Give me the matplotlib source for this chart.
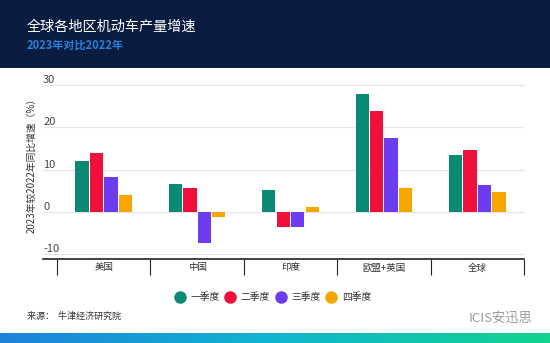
import numpy as np
import matplotlib
matplotlib.use("Agg")
import matplotlib.pyplot as plt
from matplotlib.patches import Rectangle
from matplotlib.colors import LinearSegmentedColormap
from matplotlib.lines import Line2D

plt.rcParams['font.family'] = ['Noto Sans CJK SC', 'DejaVu Sans']

# data
regions = ["美国", "中国", "印度", "欧盟+英国", "全球"]
quarters = ["一季度", "二季度", "三季度", "四季度"]
q1 = [12.0, 6.7, 5.1, 27.9, 13.5]
q2 = [13.9, 5.6, -3.5, 23.9, 14.7]
q3 = [8.3, -7.4, -3.5, 17.4, 6.3]
q4 = [4.0, -1.1, 1.3, 5.6, 4.8]
yticks = [-10, 0, 10, 20, 30]

colors = ["#0b8a73", "#f0103c", "#6b3cf0", "#f7a600"]
series = [q1, q2, q3, q4]

W, H = 550, 343
fig = plt.figure(figsize=(W / 100, H / 100), dpi=100)
fig.patch.set_facecolor("white")

# header band
fig.patches.append(Rectangle((0, 1 - 68 / H), 1, 68 / H, transform=fig.transFigure,
                             facecolor="#0a1d40", edgecolor="none", zorder=0))
fig.text(27 / W, 1 - 27 / H, "全球各地区机动车产量增速", color="white",
         fontsize=10.2, va="center", ha="left")
fig.text(27 / W, 1 - 45 / H, "2023年对比2022年", color="#2b7fdc",
         fontsize=8, fontweight="bold", va="center", ha="left")

# bottom gradient band
gax = fig.add_axes([0, 0, 1, 10 / H])
cmap = LinearSegmentedColormap.from_list("band", ["#1f82da", "#0fb6cf", "#12d38e"])
gax.imshow(np.linspace(0, 1, 256)[None, :], aspect="auto", cmap=cmap)
gax.axis("off")

ax = fig.add_axes([57 / W, 1 - 259 / H, (524 - 57) / W, (259 - 85) / H])
x = np.arange(len(regions))
bw = 0.143
step = 0.155
for i, (vals, c) in enumerate(zip(series, colors)):
    ax.bar(x + (i - 1.5) * step, vals, width=bw, color=c, zorder=3)

ax.set_xlim(-0.5, len(regions) - 0.5)
ax.set_ylim(-11.1, 30)
for s in ax.spines.values():
    s.set_visible(False)

# gridlines that reach under the tick labels
ax.hlines(yticks, -0.03, 1, transform=ax.get_yaxis_transform(), color="#e2e6ea",
          lw=0.8, clip_on=False, zorder=1)
ax.set_yticks(yticks)
ax.set_yticklabels([str(t) for t in yticks])
ax.tick_params(axis="y", length=0, pad=10, labelsize=8, labelcolor="#444444")
for lab in ax.get_yticklabels():
    lab.set_horizontalalignment("left")
    lab.set_verticalalignment("bottom")

# bottom axis line and category dividers
ax.plot([-0.03, 1], [0, 0], transform=ax.transAxes, color="#222222", lw=1.2,
        clip_on=False, zorder=4)
ax.vlines(np.arange(len(regions) + 1) - 0.5, -0.09, 0, transform=ax.get_xaxis_transform(),
          color="#222222", lw=0.8, clip_on=False)
ax.set_xticks(x)
ax.set_xticklabels(regions)
ax.tick_params(axis="x", length=0, pad=3, labelsize=6.8, labelcolor="#333333")

ax.set_ylabel("2023年较2022年同比增速（%）", fontsize=7, color="#333333")
ax.yaxis.set_label_coords(-20 / (524 - 57), 0.55)

handles = [Line2D([], [], marker="o", ls="none", markersize=8, color=c) for c in colors]
fig.legend(handles, quarters, loc="center", bbox_to_anchor=(273 / W, 1 - 297 / H),
           ncol=4, frameon=False, fontsize=7, handletextpad=0.6, columnspacing=0.6,
           handlelength=1.0, labelcolor="#333333")

fig.text(27 / W, 1 - 316 / H, "来源：  牛津经济研究院", fontsize=6.5, color="#333333",
         va="center", ha="left")
fig.text(532 / W, 1 - 318 / H, "ICIS安迅思", fontsize=9.5, color="#9a9a9a",
         va="center", ha="right")

fig.savefig("out.png", dpi=100)
